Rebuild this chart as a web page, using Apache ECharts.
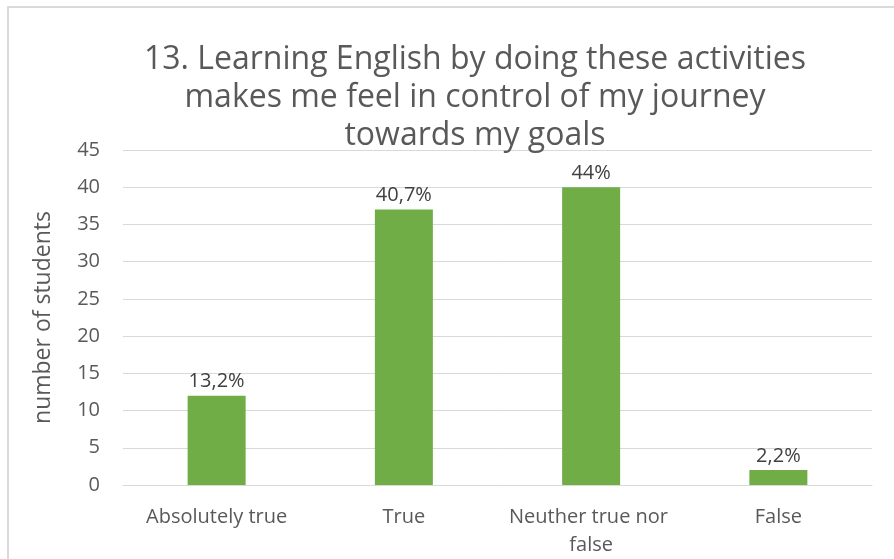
<!DOCTYPE html>
<html>
<head>
<meta charset="utf-8">
<script src="https://cdn.jsdelivr.net/npm/echarts@6/dist/echarts.min.js"></script>
<style>
  html, body { margin: 0; padding: 0; background: #fff; overflow: hidden; }
  #frame { position: absolute; left: 7px; top: 6px; width: 900px; height: 570px; border: 2px solid #DADADA; box-sizing: border-box; }
  #chart { position: absolute; left: 0; top: 0; width: 894px; height: 559px; }
</style>
</head>
<body>
<div id="frame"></div>
<div id="chart"></div>
<script>
// Survey answers to question 13
const categories = ['Absolutely true', 'True', 'Neuther true nor false', 'False'];
const students = [12, 37, 40, 2];
const yTicks = { min: 0, max: 45, interval: 5 };

const total = students.reduce((a, b) => a + b, 0);
// Share of respondents, written with a decimal comma
function shareLabel(v) {
  const s = (v / total * 100).toFixed(1).replace(/\.0$/, '');
  return s.replace('.', ',') + '%';
}

const chart = echarts.init(document.getElementById('chart'), null, { renderer: 'canvas' });
const font = 'Open Sans';
chart.setOption({
  backgroundColor: 'transparent',
  animation: false,
  title: {
    text: '13. Learning English by doing these activities\nmakes me feel in control of my journey\ntowards my goals',
    left: 470,
    top: 36,
    textAlign: 'center',
    textStyle: { fontFamily: font, fontSize: 32, fontWeight: 'normal', color: '#595959', lineHeight: 38 }
  },
  grid: { left: 123, right: 22, top: 150, bottom: 72, containLabel: false },
  xAxis: {
    type: 'category',
    data: categories,
    axisLine: { show: true, lineStyle: { color: '#D9D9D9', width: 1 } },
    axisTick: { show: false },
    axisLabel: {
      color: '#595959', fontFamily: font, fontSize: 20, margin: 18,
      width: 180, overflow: 'break', lineHeight: 28, interval: 0
    }
  },
  yAxis: {
    type: 'value',
    min: yTicks.min, max: yTicks.max, interval: yTicks.interval,
    name: 'number of students',
    nameLocation: 'middle',
    nameGap: 68,
    nameTextStyle: { color: '#595959', fontFamily: font, fontSize: 23 },
    axisLine: { show: false },
    axisTick: { show: false },
    axisLabel: { color: '#595959', fontFamily: font, fontSize: 20, margin: 23 },
    splitLine: { lineStyle: { color: '#D9D9D9', width: 1 } }
  },
  series: [{
    type: 'bar',
    data: students,
    barWidth: 58,
    itemStyle: { color: '#70AD47' },
    label: {
      show: true, position: 'top', distance: 4,
      color: '#404040', fontFamily: font, fontSize: 20,
      formatter: p => shareLabel(p.value)
    }
  }]
});
</script>
</body>
</html>
